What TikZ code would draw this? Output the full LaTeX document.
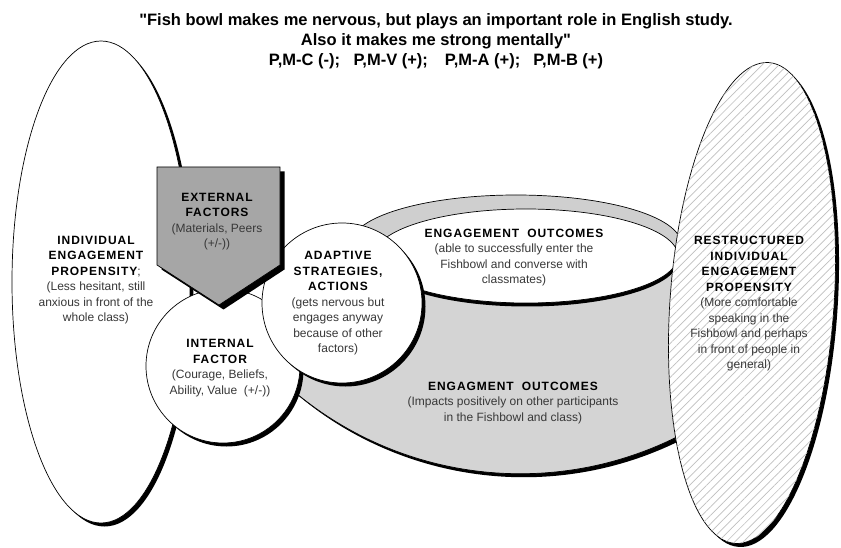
\documentclass[tikz,border=0pt]{standalone}
\usepackage{fontspec}
\setmainfont{Liberation Sans}
\newfontfamily\headfont[LetterSpace=8]{Liberation Sans}
\newfontfamily\titlefont{Liberation Sans}
\usetikzlibrary{shadows,patterns.meta}

\definecolor{bowlgray}{gray}{0.83}
\definecolor{rimgray}{gray}{0.81}
\definecolor{pentgray}{gray}{0.65}
\definecolor{hatchgray}{gray}{0.75}
\definecolor{textgray}{gray}{0.22}

\newcommand{\hd}[1]{{\headfont\bfseries\color{black}#1}}

\begin{document}
\begin{tikzpicture}[x=1pt, y=1pt]
        \useasboundingbox (0,0) rectangle (841,547);
        \begin{scope}[line width=0.7pt,
                blackshadow/.style={drop shadow={shadow xshift=3.5pt, shadow yshift=-3.5pt, opacity=1, fill=black}},
                every node/.style={align=center, text=textgray, font=\fontsize{12}{15.5}\selectfont}]
                \draw[blackshadow, fill=white] (101,265) ellipse [x radius=89, y radius=241];
                \draw[blackshadow, fill=bowlgray] (351,303) -- (290,159) arc [start angle=229.15, end angle=297.2, radius=352] -- (681,303) -- cycle;
                \draw[fill=rimgray] (516,303) ellipse [x radius=165, y radius=49];
                \draw[fill=white, drop shadow={shadow xshift=1pt, shadow yshift=-3.5pt, opacity=1, fill=black}] (526,291) ellipse [x radius=152, y radius=47];
                \draw[blackshadow, fill=white, rotate around={-4:(752,244)}, postaction={pattern={Lines[angle=45, distance=6pt, line width=0.7pt]}, pattern color=hatchgray}] (752,244) ellipse [x radius=82, y radius=241];
                \draw[blackshadow, fill=white] (223,181) circle [radius=77];
                \draw[blackshadow, fill=white] (342,244) circle [radius=80];
                \draw[drop shadow={shadow xshift=4.5pt, shadow yshift=-4.5pt, opacity=1, fill=black}, fill=pentgray] (157,380) -- (280,380) -- (280,282) -- (219,242) -- (157,282) -- cycle;

                \node[font=\fontsize{16.5}{20}\selectfont\titlefont\bfseries, text=black] (TTL) at (436,506) {"Fish bowl makes me nervous, but plays an important role in English study.\\Also it makes me strong mentally"\\P,M-C (-);\hspace{13.5pt}P,M-V (+);\hspace{17pt}P,M-A (+);\hspace{13pt}P,M-B (+)};
                \node (IEP) at (96,267) {\hd{INDIVIDUAL}\\\hd{ENGAGEMENT}\\\hd{PROPENSITY};\\(Less hesitant, still\\anxious in front of the\\whole class)};
                \node (EXT) at (217,325.5) {\hd{EXTERNAL}\\\hd{FACTORS}\\(Materials, Peers\\(+/-))};
                \node (INT) at (220,179) {\hd{INTERNAL}\\\hd{FACTOR}\\(Courage, Beliefs,\\Ability, Value~~(+/-))};
                \node (ADA) at (338,243.5) {\hd{ADAPTIVE}\\\hd{STRATEGIES,}\\\hd{ACTIONS}\\(gets nervous but\\engages anyway\\because of other\\factors)};
                \node (EOA) at (514,289.5) {\hd{ENGAGEMENT\hspace{8pt}OUTCOMES}\\(able to successfully enter the\\Fishbowl and converse with\\classmates)};
                \node (EOB) at (513,144) {\hd{ENGAGMENT\hspace{8pt}OUTCOMES}\\(Impacts positively on other participants\\in the Fishbowl and class)};
                \node (RIEP) at (749,243) {\hd{RESTRUCTURED}\\\hd{INDIVIDUAL}\\\hd{ENGAGEMENT}\\\hd{PROPENSITY}\\(More comfortable\\speaking in the\\Fishbowl and perhaps\\in front of people in\\general)};
        \end{scope}
\end{tikzpicture}
\end{document}
